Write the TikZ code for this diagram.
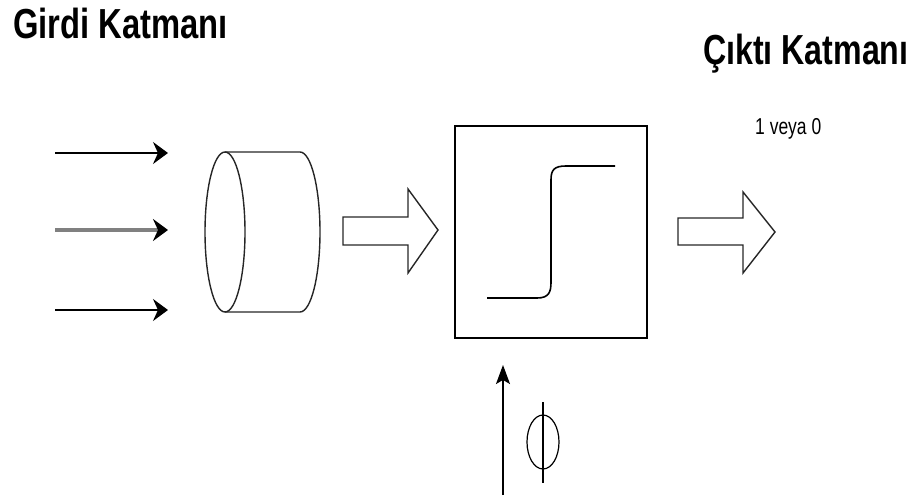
\documentclass[tikz,border=0pt]{standalone}
\usepackage{fontspec}
\setmainfont{Liberation Sans}
\usetikzlibrary{arrows.meta}
\tikzset{
  title/.style={anchor=base west, inner sep=0pt, font=\bfseries\fontsize{42}{42}\selectfont},
  note/.style={anchor=base west, inner sep=0pt, font=\fontsize{23}{23}\selectfont},
  inhead/.style={-{Stealth[length=15pt,width=22pt,inset=5pt,black]}},
  inarrow/.style={line width=1.8pt, inhead},
  outline/.style={line width=1.4pt, black!85, line join=miter},
  stepbox/.style={draw, line width=1.6pt, minimum width=192pt, minimum height=212pt, inner sep=0pt},
}
\begin{document}
\begin{tikzpicture}[x=1pt, y=-1pt]
\useasboundingbox (0,0) rectangle (921,503);

% titles
\node[title] (tin) at (13,39) {\scalebox{0.78}[1]{Girdi Katmanı}};
\node[title] (tout) at (703,64) {\scalebox{0.765}[1]{Çıktı Katmanı}};
\node[note] (val) at (755,134) {\scalebox{0.76}[1]{1 veya 0}};

% input signals
\coordinate (i1) at (55,153);  \coordinate (e1) at (168,153);
\coordinate (i2) at (55,230);  \coordinate (e2) at (168,230);
\coordinate (i3) at (55,310);  \coordinate (e3) at (168,310);
\draw[inarrow] (i1) -- (e1);
\draw[inarrow, black!50, line width=3.4pt] (i2) -- (e2);
\draw[inarrow] (i3) -- (e3);

% summing cylinder
\draw[outline] (225,232) ellipse[x radius=20, y radius=80];
\draw[outline] (225,152) -- (300,152)
  arc[start angle=-90, end angle=90, x radius=20, y radius=80] -- (225,312);

% block arrow into the threshold unit
\draw[outline] (343,217) -- (408,217) -- (408,189) -- (438,230) -- (408,273)
  -- (408,245) -- (343,245) -- cycle;

% threshold unit with step function
\node[stepbox] (unit) at (551,232) {};
\draw[line width=1.6pt] (487,298) -- (537,298)
  .. controls (549,298) and (551,292) .. (551,282) -- (551,180)
  .. controls (551,170) and (554,166) .. (566,166) -- (615,166);

% block arrow out of the unit
\draw[outline] (678,218) -- (743,218) -- (743,192) -- (775,232) -- (743,273)
  -- (743,245) -- (678,245) -- cycle;

% threshold input
\coordinate (phiIn) at (503,495);
\coordinate (phiTip) at (503,365);
\draw[line width=1.3pt, -{Stealth[length=19pt,width=14pt,inset=4pt]}] (phiIn) -- (phiTip);
\draw[line width=1.2pt] (543,442) ellipse[x radius=16, y radius=27];
\draw[line width=1.2pt] (543,402) -- (543,483);
\end{tikzpicture}
\end{document}
